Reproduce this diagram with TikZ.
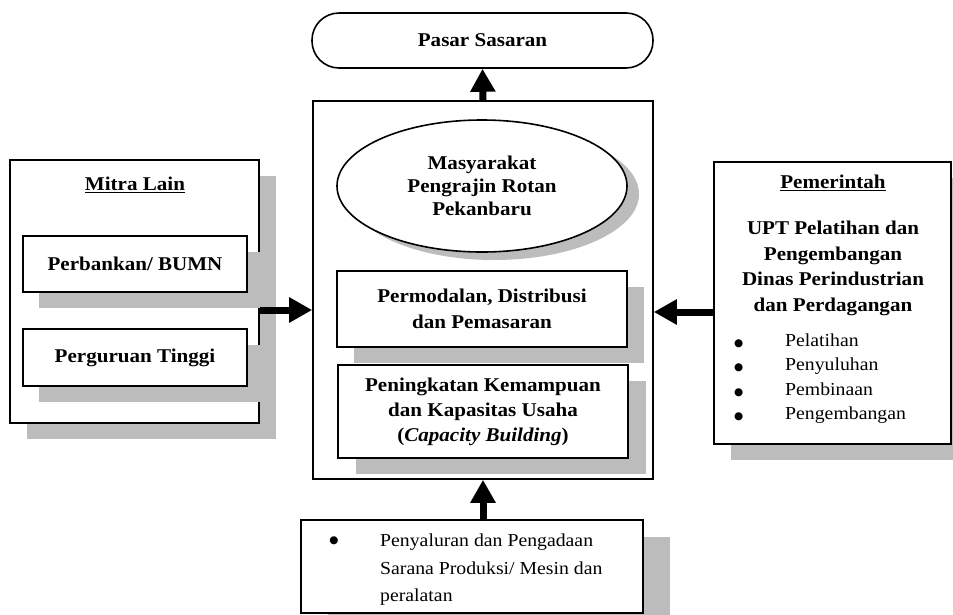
\documentclass[tikz,border=0pt]{standalone}
\usepackage{fontspec}
\setmainfont{Liberation Serif}[FakeStretch=1.08]
\newfontfamily\symfont{DejaVu Sans}
\newcommand\bul{{\symfont\fontsize{10.5}{10.5}\selectfont ●}}
\usetikzlibrary{arrows.meta,shapes.geometric,shadows}
\definecolor{shadowgray}{RGB}{188,188,188}
\begin{document}
\begin{tikzpicture}[x=1pt,y=-1pt,
  box/.style={draw=black, line width=1.6pt, fill=white, inner sep=0pt},
  sh/.style 2 args={general shadow={fill=shadowgray, shadow xshift=#1pt, shadow yshift=-#2pt}},
  boldtxt/.style={font=\fontsize{19.5}{25}\selectfont\bfseries, align=center, inner sep=0pt},
  regtxt/.style={font=\fontsize{18.3}{24.3}\selectfont, align=left, inner sep=0pt},
  bigarrow/.style={line width=7pt, -{Triangle[length=23pt,width=24pt]}},
]
\useasboundingbox (0,0) rectangle (953,614);

% top
\node[box, rounded corners=27pt, minimum width=341, minimum height=55, boldtxt] (pasar) at (482.5,40.5) {Pasar Sasaran};

% central block
\node[box, minimum width=340, minimum height=378] (central) at (483,290) {};
\node[box, ellipse, sh={12}{8}, minimum width=290, minimum height=132, boldtxt, font=\fontsize{19.5}{23}\selectfont\bfseries] (masy) at (482,186) {Masyarakat\\Pengrajin Rotan\\Pekanbaru};
\node[box, sh={17}{16}, minimum width=290, minimum height=76, boldtxt, font=\fontsize{19.5}{26}\selectfont\bfseries] (modal) at (482,309) {Permodalan, Distribusi\\dan Pemasaran};
\node[box, sh={18}{16}, minimum width=290, minimum height=93, boldtxt] (kap) at (483,411.5) {Peningkatan Kemampuan\\dan Kapasitas Usaha\\(\textit{Capacity Building})};

% left block
\node[box, sh={17}{16}, minimum width=249, minimum height=263] (mitra) at (134.5,291.5) {};
\node[boldtxt] (mitratitle) at (135,185) {\underline{Mitra Lain}};
\node[box, sh={16}{16}, minimum width=224, minimum height=56, boldtxt] (bank) at (135,264) {Perbankan/ BUMN};
\node[box, sh={16}{16}, minimum width=224, minimum height=57, boldtxt] (pt) at (135,357.5) {Perguruan Tinggi};

% right block
\node[box, sh={17}{16}, minimum width=237, minimum height=282] (pem) at (832.5,303) {};
\node[boldtxt] (pemtitle) at (833,183) {\underline{Pemerintah}};
\node[boldtxt, font=\fontsize{19.5}{25.7}\selectfont\bfseries] (upt) at (833,268.5) {UPT Pelatihan dan\\Pengembangan\\Dinas Perindustrian\\dan Perdagangan};
\node[regtxt, anchor=west] (pemlist) at (734,378.5) {\makebox[51pt][l]{\bul}Pelatihan\\\makebox[51pt][l]{\bul}Penyuluhan\\\makebox[51pt][l]{\bul}Pembinaan\\\makebox[51pt][l]{\bul}Pengembangan};

% bottom block
\node[box, sh={27}{17}, minimum width=342, minimum height=93] (alat) at (472,566.5) {};
\begin{scope}
\clip (302,521) rectangle (642,609);
\node[regtxt] (alatbullet) at (334,541) {\bul};
\node[regtxt, anchor=west, font=\fontsize{18.3}{27.5}\selectfont] (alattxt) at (380,570) {Penyaluran dan Pengadaan\\Sarana Produksi/ Mesin dan\\peralatan};
\end{scope}

% arrows
\coordinate (ly) at (0,310);
\coordinate (ry) at (0,312);
\draw[bigarrow] (central.north) -- (pasar.south);
\draw[bigarrow] (mitra.east |- ly) -- (central.west |- ly);
\draw[bigarrow] (pem.west |- ry) -- (central.east |- ry);
\draw[bigarrow] (central.south |- alat.north) -- (central.south);
\end{tikzpicture}
\end{document}
